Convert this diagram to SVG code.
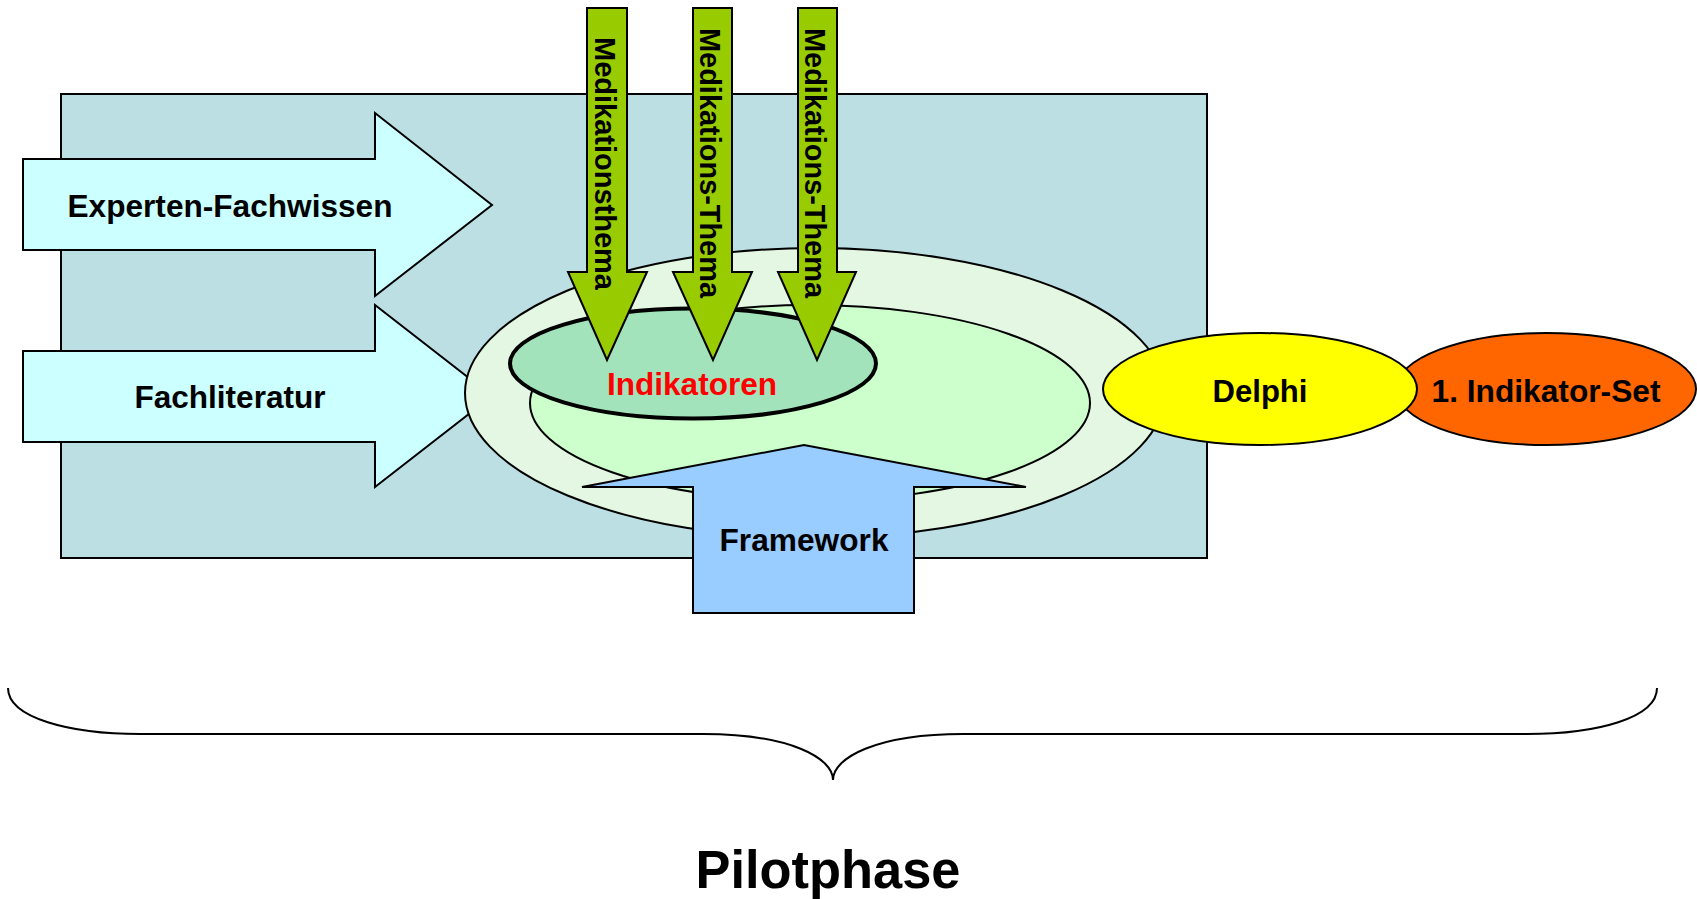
<svg xmlns="http://www.w3.org/2000/svg" width="1697" height="899" viewBox="0 0 1697 899">
<style>
text{font-family:"Liberation Sans",Arial,sans-serif;font-weight:bold;fill:#000}
.ln{stroke:#000;stroke-width:2}
.cy{fill:#CCFFFF}
.gr{fill:#99CC00}
.lbl{font-size:31px;text-anchor:middle}
.vt{font-size:30px}
</style>
<rect width="1697" height="899" fill="#fff"/>
<g id="phase-box"><rect class="ln" x="61" y="94" width="1146" height="464" fill="#BBDFE3"/></g>
<g id="experten">
<path class="ln cy" d="M23,159 L375,159 L375,113 L492,205 L375,296 L375,250 L23,250 Z"/>
<text class="lbl" x="230" y="217" textLength="325" lengthAdjust="spacingAndGlyphs">Experten-Fachwissen</text>
</g>
<g id="fachliteratur">
<path class="ln cy" d="M23,351 L375,351 L375,305 L492,396 L375,487 L375,442 L23,442 Z"/>
<text class="lbl" x="230" y="408" textLength="191" lengthAdjust="spacingAndGlyphs">Fachliteratur</text>
</g>
<g id="outer-ellipse"><ellipse class="ln" cx="815" cy="393" rx="350" ry="145" fill="#E3F7E3" stroke-width="1.8"/></g>
<g id="inner-ellipse"><ellipse class="ln" cx="810" cy="403" rx="280" ry="98" fill="#CCFFCC" stroke-width="1.8"/></g>
<g id="indikatoren">
<ellipse cx="693" cy="363.5" rx="183" ry="55" fill="#A3E3BB" stroke="#000" stroke-width="4"/>
<text class="lbl" x="692" y="395" fill="#FF0000" style="fill:#FF0000" textLength="170" lengthAdjust="spacingAndGlyphs">Indikatoren</text>
</g>
<g id="thema1">
<path class="ln gr" d="M587,8 L627,8 L627,272 L647,272 L607,360 L568,272 L587,272 Z"/>
<text class="vt" transform="translate(595,37) rotate(90)" textLength="253" lengthAdjust="spacingAndGlyphs">Medikationsthema</text>
</g>
<g id="thema2">
<path class="ln gr" d="M693,8 L732,8 L732,272 L752,272 L713,360 L673,272 L693,272 Z"/>
<text class="vt" transform="translate(700,28) rotate(90)" textLength="270" lengthAdjust="spacingAndGlyphs">Medikations-Thema</text>
</g>
<g id="thema3">
<path class="ln gr" d="M798,8 L837,8 L837,272 L856,272 L817,360 L778,272 L798,272 Z"/>
<text class="vt" transform="translate(805,28) rotate(90)" textLength="270" lengthAdjust="spacingAndGlyphs">Medikations-Thema</text>
</g>
<g id="framework">
<path class="ln" fill="#99CCFF" d="M693,613 L693,487 L582,487 L804,445 L1026,487 L914,487 L914,613 Z"/>
<text class="lbl" x="804" y="551" textLength="169" lengthAdjust="spacingAndGlyphs">Framework</text>
</g>
<g id="indikator-set">
<ellipse class="ln" cx="1546" cy="389" rx="150" ry="56" fill="#FF6600"/>
<text class="lbl" x="1546" y="402" textLength="229" lengthAdjust="spacingAndGlyphs">1. Indikator-Set</text>
</g>
<g id="delphi">
<ellipse class="ln" cx="1260" cy="389" rx="157" ry="56" fill="#FFFF00"/>
<text class="lbl" x="1260" y="402" textLength="95" lengthAdjust="spacingAndGlyphs">Delphi</text>
</g>
<g id="connectors">
<path d="M8,688 C8,718 70,734 140,734 L703,734 C790,734 833,758 833,780 C833,758 876,734 963,734 L1527,734 C1597,734 1657,718 1657,688" fill="none" stroke="#000" stroke-width="2"/>
</g>
<g id="pilotphase"><text x="828" y="888" font-size="53" text-anchor="middle" textLength="265" lengthAdjust="spacingAndGlyphs">Pilotphase</text></g>
</svg>
